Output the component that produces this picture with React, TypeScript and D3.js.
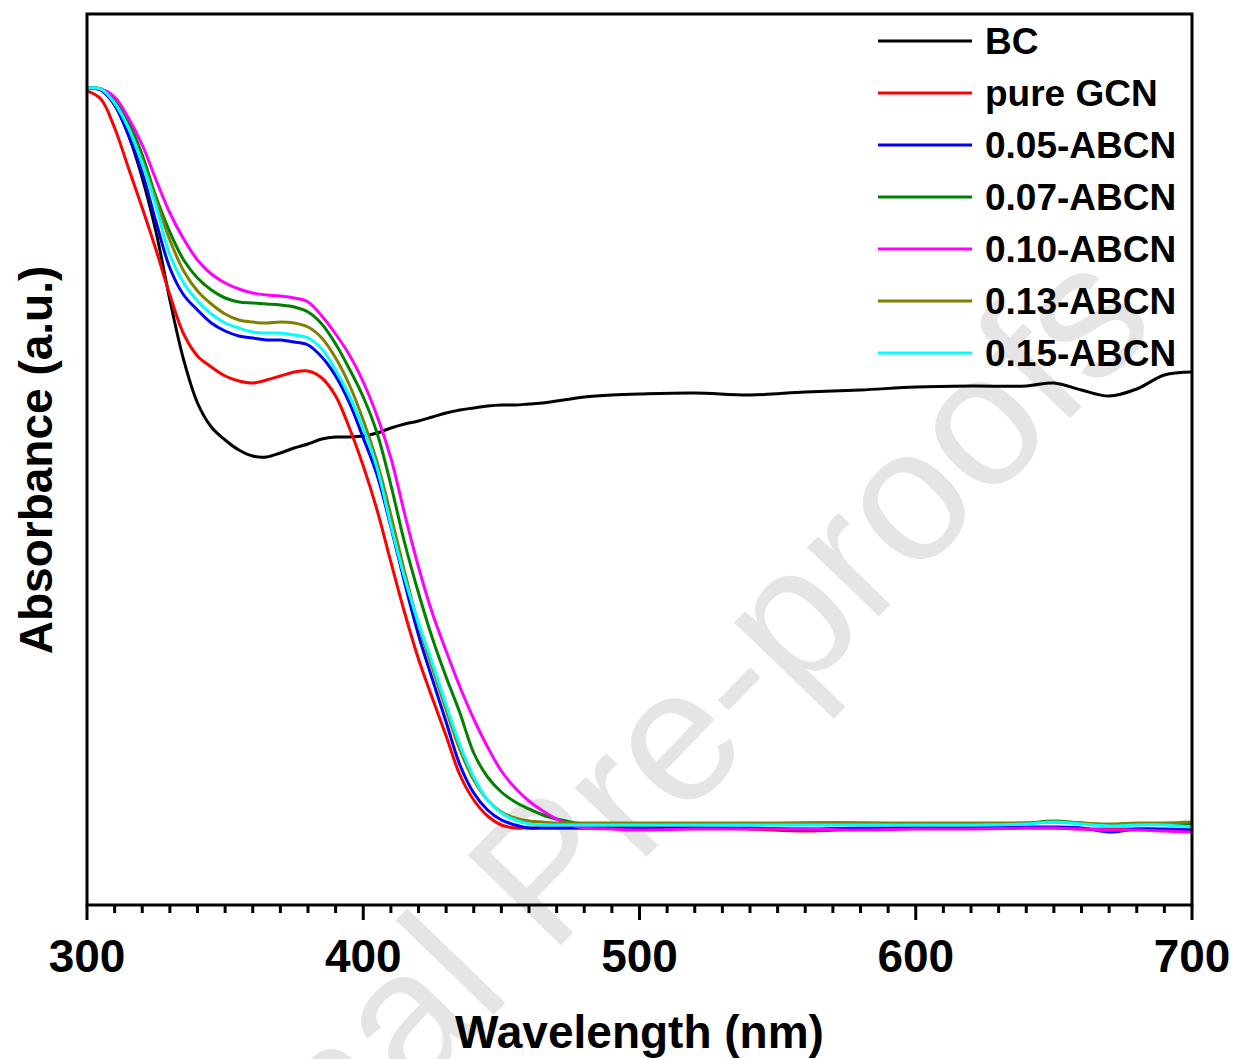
import React from 'react';
import * as d3 from 'd3';

const wavelengths = [300,305,310,315,320,325,330,335,340,345,350,355,360,365,370,375,380,385,390,395,400,405,410,415,420,425,430,435,440,445,450,455,460,465,470,475,480,490,500,520,540,560,580,600,620,640,650,660,670,680,690,700];

const bc = [.817,.815,.800,.770,.727,.673,.605,.545,.502,.478,.465,.455,.449,.448,.452,.457,.461,.466,.468,.468,.469,.472,.477,.481,.484,.488,.492,.495,.497,.499,.500,.500,.501,.502,.504,.506,.508,.510,.511,.512,.510,.513,.515,.518,.519,.519,.522,.515,.509,.516,.530,.533];
const pureGCN = [.814,.806,.777,.737,.697,.655,.610,.571,.549,.538,.529,.524,.522,.525,.529,.533,.534,.527,.509,.477,.439,.395,.343,.292,.246,.207,.169,.130,.105,.089,.080,.077,.077,.077,.077,.077,.077,.077,.077,.077,.076,.074,.076,.077,.077,.077,.077,.076,.076,.076,.075,.075];
const abcn005 = [.817,.815,.800,.770,.732,.683,.637,.610,.595,.582,.574,.569,.567,.565,.565,.563,.560,.548,.529,.502,.467,.430,.378,.322,.270,.226,.183,.140,.112,.095,.085,.080,.077,.077,.077,.077,.077,.077,.077,.077,.077,.076,.077,.077,.077,.078,.078,.077,.073,.076,.076,.075];
const abcn007 = [.817,.816,.805,.783,.750,.708,.673,.645,.627,.615,.607,.603,.602,.601,.600,.598,.593,.581,.561,.536,.508,.472,.420,.362,.312,.267,.228,.192,.152,.128,.113,.103,.096,.090,.086,.083,.081,.080,.080,.081,.081,.082,.082,.081,.081,.082,.084,.082,.080,.081,.081,.081];
const abcn010 = [.817,.816,.808,.787,.760,.725,.692,.666,.645,.631,.622,.616,.612,.610,.609,.607,.603,.589,.571,.550,.523,.489,.447,.391,.338,.292,.254,.218,.186,.158,.134,.117,.104,.094,.086,.080,.077,.076,.075,.076,.076,.076,.075,.076,.076,.077,.077,.076,.075,.075,.074,.073];
const abcn013 = [.817,.816,.802,.778,.745,.705,.665,.634,.614,.601,.591,.585,.583,.582,.583,.582,.578,.567,.547,.520,.485,.443,.390,.333,.280,.237,.195,.155,.125,.105,.093,.087,.084,.083,.082,.082,.082,.082,.082,.082,.082,.082,.082,.082,.082,.082,.083,.082,.081,.082,.082,.083];
const abcn015 = [.817,.816,.802,.777,.742,.699,.650,.622,.604,.591,.582,.577,.573,.572,.572,.570,.567,.556,.535,.509,.477,.437,.380,.327,.282,.242,.200,.160,.128,.105,.092,.085,.081,.080,.080,.080,.080,.080,.080,.080,.080,.080,.080,.080,.080,.081,.083,.081,.079,.080,.080,.078];

const seriesNames = ['BC', 'pure GCN', '0.05-ABCN', '0.07-ABCN', '0.10-ABCN', '0.13-ABCN', '0.15-ABCN'];
const seriesColors = ['#000000', '#ff0000', '#0000ff', '#008000', '#ff00ff', '#808000', '#00ffff'];
const seriesValues = [bc, pureGCN, abcn005, abcn007, abcn010, abcn013, abcn015];

const xMajorTicks = [300, 400, 500, 600, 700];
const xDomain = [300, 700];
const yDomain = [0, 0.891];

const W = 1234;
const H = 1059;
const M = { left: 87, right: 1192, top: 14, bottom: 905 };
const FONT = '"Liberation Sans", Arial, Helvetica, sans-serif';

export default function App() {
  const x = d3.scaleLinear().domain(xDomain).range([M.left, M.right]);
  const y = d3.scaleLinear().domain(yDomain).range([M.bottom, M.top]);
  const line = d3
    .line<[number, number]>()
    .x((d) => x(d[0]))
    .y((d) => y(d[1]))
    .curve(d3.curveCatmullRom.alpha(0.5));

  const minorTicks = d3.range(300, 701, 10).filter((t) => t % 100 !== 0);

  return (
    <svg
      width={W}
      height={H}
      viewBox={`0 0 ${W} ${H}`}
      style={{ position: 'absolute', left: 0, top: 0, background: '#fff' }}
    >
      <rect x={0} y={0} width={W} height={H} fill="#fff" />
      {/* watermark */}
      <text
        transform="translate(1160,325) rotate(-46)"
        textAnchor="end"
        fontFamily={FONT}
        fontSize={188}
        fill="#e5e5e5"
      >
        Journal Pre-proofs
      </text>

      <defs>
        <clipPath id="plotClip">
          <rect x={M.left} y={M.top} width={M.right - M.left} height={M.bottom - M.top} />
        </clipPath>
      </defs>

      <g clipPath="url(#plotClip)">
        {seriesValues.map((vals, i) => (
          <path
            key={seriesNames[i]}
            d={line(wavelengths.map((w, j) => [w, vals[j]] as [number, number])) || ''}
            fill="none"
            stroke={seriesColors[i]}
            strokeWidth={3}
            strokeLinejoin="round"
          />
        ))}
      </g>

      {/* frame */}
      <rect
        x={M.left}
        y={M.top}
        width={M.right - M.left}
        height={M.bottom - M.top}
        fill="none"
        stroke="#000"
        strokeWidth={3}
      />

      {/* ticks */}
      {minorTicks.map((t) => (
        <line key={'m' + t} x1={x(t)} x2={x(t)} y1={M.bottom} y2={M.bottom + 8} stroke="#000" strokeWidth={3} />
      ))}
      {xMajorTicks.map((t) => (
        <g key={'M' + t}>
          <line x1={x(t)} x2={x(t)} y1={M.bottom} y2={M.bottom + 15} stroke="#000" strokeWidth={3} />
          <text
            x={x(t)}
            y={972}
            textAnchor="middle"
            fontFamily={FONT}
            fontWeight="bold"
            fontSize={46}
            fill="#000"
          >
            {t}
          </text>
        </g>
      ))}

      {/* axis titles */}
      <text
        x={(M.left + M.right) / 2}
        y={1048}
        textAnchor="middle"
        fontFamily={FONT}
        fontWeight="bold"
        fontSize={46}
        fill="#000"
      >
        Wavelength (nm)
      </text>
      <text
        transform="translate(52,460) rotate(-90)"
        textAnchor="middle"
        fontFamily={FONT}
        fontWeight="bold"
        fontSize={46}
        fill="#000"
      >
        Absorbance (a.u.)
      </text>

      {/* legend */}
      {seriesNames.map((name, i) => {
        const ly = 41 + i * 52;
        return (
          <g key={'lg' + name}>
            <line x1={878} x2={972} y1={ly} y2={ly} stroke={seriesColors[i]} strokeWidth={3} />
            <text x={985} y={ly + 13} fontFamily={FONT} fontWeight="bold" fontSize={37} fill="#000">
              {name}
            </text>
          </g>
        );
      })}
    </svg>
  );
}
